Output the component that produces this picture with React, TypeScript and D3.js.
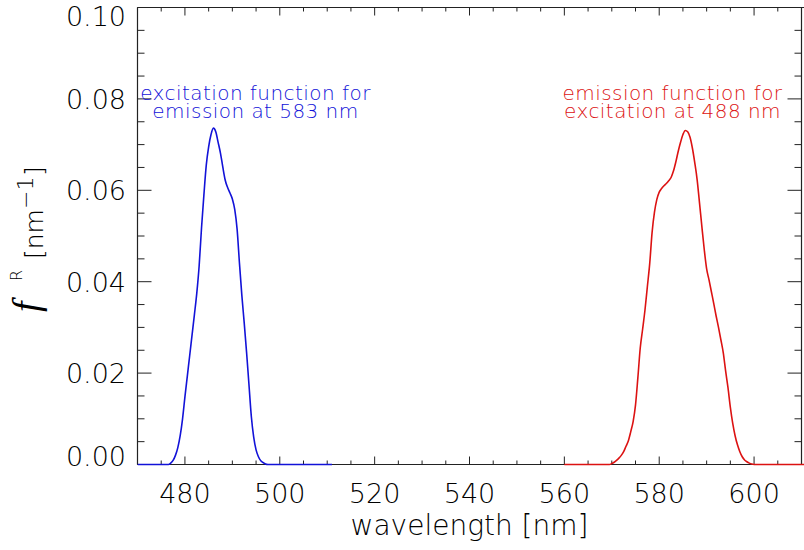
import React from "react";
import * as d3 from "d3";

const blueWavelengths = [470, 476.5, 477, 477.5, 478, 478.5, 479, 479.5, 480, 480.5, 481, 481.5, 482, 482.5, 483, 483.5, 484, 484.5, 485, 485.5, 486, 486.5, 487, 487.5, 488, 488.5, 489, 489.5, 490, 490.5, 491, 491.5, 492, 492.5, 493, 493.5, 494, 494.5, 495, 495.5, 496, 496.5, 497, 497.5, 511];
const blueValues = [0, 0, 0.0003, 0.0009, 0.002, 0.0037, 0.0063, 0.01, 0.0148, 0.0193, 0.0238, 0.0283, 0.0328, 0.0375, 0.0435, 0.0518, 0.059, 0.0655, 0.0695, 0.0722, 0.0736, 0.0728, 0.0705, 0.0681, 0.065, 0.0622, 0.0606, 0.0594, 0.0581, 0.0558, 0.0515, 0.044, 0.037, 0.031, 0.0245, 0.0175, 0.0105, 0.006, 0.0032, 0.0017, 0.0008, 0.0004, 0.0001, 0, 0];

const redWavelengths = [560, 569.5, 570, 570.5, 571, 571.5, 572, 572.5, 573, 573.5, 574, 574.5, 575, 575.5, 576, 576.5, 577, 577.5, 578, 578.5, 579, 579.5, 580, 580.5, 581, 581.5, 582, 582.5, 583, 583.5, 584, 584.5, 585, 585.5, 586, 586.5, 587, 587.5, 588, 588.5, 589, 589.5, 590, 590.5, 591, 591.5, 592, 592.5, 593, 593.5, 594, 594.5, 595, 595.5, 596, 596.5, 597, 597.5, 598, 598.5, 599, 599.5, 600, 612];
const redValues = [0, 0, 0.0002, 0.0005, 0.0009, 0.0014, 0.002, 0.0028, 0.004, 0.0052, 0.0072, 0.0094, 0.013, 0.019, 0.0255, 0.0296, 0.0338, 0.0389, 0.044, 0.0508, 0.0552, 0.058, 0.0596, 0.0604, 0.061, 0.0615, 0.0621, 0.0628, 0.0642, 0.0662, 0.0685, 0.0705, 0.0722, 0.0731, 0.0728, 0.0716, 0.0692, 0.066, 0.0623, 0.0572, 0.052, 0.047, 0.0428, 0.0404, 0.0378, 0.0352, 0.0325, 0.03, 0.0273, 0.0245, 0.0205, 0.0168, 0.0125, 0.009, 0.0063, 0.0043, 0.0028, 0.0017, 0.001, 0.0006, 0.0003, 0.0001, 0, 0];

const xMajorTicks = [480, 500, 520, 540, 560, 580, 600];
const xTickLabels = ["480", "500", "520", "540", "560", "580", "600"];
const yMajorTicks = [0, 0.02, 0.04, 0.06, 0.08, 0.1];
const yTickLabels = ["0.00", "0.02", "0.04", "0.06", "0.08", "0.10"];
const blueLabel = ["excitation function for", "emission at 583 nm"];
const redLabel = ["emission function for", "excitation at 488 nm"];

const W = 804;
const H = 550;
const L = 137.5, R = 801.5, T = 7.5, B = 464.5;
const BLUE = "#1212d8";
const RED = "#dc1212";
const FONT = "'DejaVu Sans', sans-serif";

export default function App() {
  const x = d3.scaleLinear().domain([470, 610]).range([L, R]);
  const y = d3.scaleLinear().domain([0, 0.1]).range([B, T]);
  const line = d3
    .line<[number, number]>()
    .x((d) => x(d[0]))
    .y((d) => y(d[1]))
    .curve(d3.curveMonotoneX);
  const blueData: [number, number][] = blueWavelengths.map((w, i) => [w, blueValues[i]]);
  const redData: [number, number][] = redWavelengths.map((w, i) => [w, redValues[i]]);

  const xMinor = d3.range(470, 610.01, 5).filter((v) => !xMajorTicks.includes(v));
  const yMinor = d3.range(0, 0.1001, 0.005).map((v) => +v.toFixed(3)).filter((v) => !yMajorTicks.some((m) => Math.abs(m - v) < 1e-6));

  const axisColor = "#222";
  return (
    <div style={{ position: "fixed", left: 0, top: 0, width: W, height: H, background: "#fff" }}>
      <svg width={W} height={H} style={{ display: "block" }}>
        <defs>
          <clipPath id="plotclip">
            <rect x={L} y={T - 2} width={W - L} height={B - T + 4} />
          </clipPath>
        </defs>
        <rect x={0} y={0} width={W} height={H} fill="#fff" />
        {/* frame */}
        <g stroke={axisColor} strokeWidth={1.2} fill="none">
          <line x1={L} y1={B} x2={W} y2={B} />
          <line x1={L} y1={T} x2={W} y2={T} />
          <line x1={L} y1={T} x2={L} y2={B} />
          <line x1={R} y1={T} x2={R} y2={B} />
        </g>
        {/* ticks */}
        <g stroke={axisColor} strokeWidth={1}>
          {xMajorTicks.map((v) => (
            <g key={"xm" + v}>
              <line x1={x(v)} x2={x(v)} y1={B} y2={B - 8} />
              <line x1={x(v)} x2={x(v)} y1={T} y2={T + 8} />
            </g>
          ))}
          {xMinor.map((v) => (
            <g key={"xn" + v}>
              <line x1={x(v)} x2={x(v)} y1={B} y2={B - 4} />
              <line x1={x(v)} x2={x(v)} y1={T} y2={T + 4} />
            </g>
          ))}
          {yMajorTicks.map((v) => (
            <g key={"ym" + v}>
              <line x1={L} x2={L + 14} y1={y(v)} y2={y(v)} />
              <line x1={R} x2={R - 14} y1={y(v)} y2={y(v)} />
            </g>
          ))}
          {yMinor.map((v) => (
            <g key={"yn" + v}>
              <line x1={L} x2={L + 7} y1={y(v)} y2={y(v)} />
              <line x1={R} x2={R - 7} y1={y(v)} y2={y(v)} />
            </g>
          ))}
        </g>
        {/* curves */}
        <g clipPath="url(#plotclip)">
          <path d={line(blueData) || ""} fill="none" stroke={BLUE} strokeWidth={1.6} />
          <path d={line(redData) || ""} fill="none" stroke={RED} strokeWidth={1.6} />
        </g>
        {/* tick labels */}
        <g fontFamily={FONT} fontWeight={200} fontSize={27} fill="#000">
          {xMajorTicks.map((v, i) => (
            <text key={"xl" + v} x={x(v)} y={503} textAnchor="middle">
              {xTickLabels[i]}
            </text>
          ))}
          {yMajorTicks.map((v, i) => {
            const cy = Math.min(456, Math.max(16.6, y(v)));
            return (
              <text key={"yl" + v} x={126} y={cy + 9.8} textAnchor="end">
                {yTickLabels[i]}
              </text>
            );
          })}
        </g>
        {/* axis titles */}
        <text x={(L + R) / 2} y={535} textAnchor="middle" fontFamily={FONT} fontWeight={200} fontSize={28} fill="#000">
          wavelength [nm]
        </text>
        <g transform="rotate(-90)" fontFamily={FONT} fontWeight={200} fill="#000">
          <text
            x={-312}
            y={39}
            fontFamily="'Liberation Serif', serif"
            fontStyle="italic"
            fontWeight={400}
            fontSize={38}
          >
            f
          </text>
          <text x={-281} y={22} fontSize={16}>R</text>
          <text x={-259} y={43} fontSize={25}>[nm</text>
          <text x={-209} y={33} fontSize={22}>−1</text>
          <text x={-176} y={43} fontSize={25}>]</text>
        </g>
        {/* annotations */}
        <g fontFamily={FONT} fontWeight={200} fontSize={20} letterSpacing={0.45} textAnchor="middle">
          <text x={255.5} y={99.5} fill={BLUE}>{blueLabel[0]}</text>
          <text x={255.5} y={118} fill={BLUE}>{blueLabel[1]}</text>
          <text x={672.5} y={99.5} fill={RED}>{redLabel[0]}</text>
          <text x={672.5} y={118} fill={RED}>{redLabel[1]}</text>
        </g>
      </svg>
    </div>
  );
}
